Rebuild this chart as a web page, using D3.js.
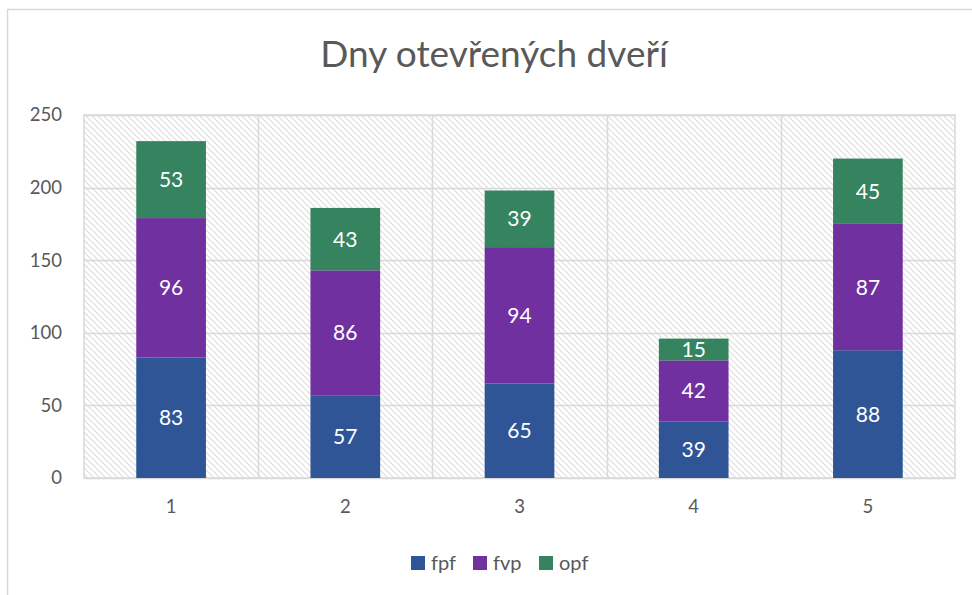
<!DOCTYPE html>
<html>
<head>
<meta charset="utf-8">
<script src="https://cdn.jsdelivr.net/npm/d3@7"></script>
<style>
  html, body { margin: 0; padding: 0; background: #fff; }
  svg { display: block; }
  text { font-family: Lato, "Open Sans", sans-serif; }
</style>
</head>
<body>
<svg id="chart" width="972" height="595"></svg>
<script>
// Days of open doors: visitor counts per day, stacked by faculty
const categories = ["1", "2", "3", "4", "5"];
const seriesNames = ["fpf", "fvp", "opf"];
const fpf = [83, 57, 65, 39, 88];
const fvp = [96, 86, 94, 42, 87];
const opf = [53, 43, 39, 15, 45];
const yTicks = [0, 50, 100, 150, 200, 250];
const colors = ["#2F5597", "#7030A0", "#36835F"];
const title = "Dny otevřených dveří";

const svg = d3.select("#chart");
const W = 972, H = 595;
const margin = { left: 84, right: 17, top: 115, bottom: 117 };
const plotW = W - margin.left - margin.right;
const plotH = H - margin.top - margin.bottom;

// chart frame
svg.append("rect")
  .attr("x", 7.5).attr("y", 9.5)
  .attr("width", 1000).attr("height", 700)
  .attr("fill", "#fff").attr("stroke", "#d9d9d9").attr("stroke-width", 1.5);

// hatched plot background
const defs = svg.append("defs");
const pat = defs.append("pattern")
  .attr("id", "hatch").attr("patternUnits", "userSpaceOnUse")
  .attr("width", 6).attr("height", 6);
pat.append("rect").attr("width", 6).attr("height", 6).attr("fill", "#fff");
pat.append("path")
  .attr("d", "M-1,-1 L7,7 M-1,5 L1,7 M5,-1 L7,1")
  .attr("stroke", "#dedede").attr("stroke-width", 1.1);

const rows = categories.map((c, i) => ({ cat: c, fpf: fpf[i], fvp: fvp[i], opf: opf[i] }));
const stacked = d3.stack().keys(seriesNames)(rows);

const x = d3.scaleBand().domain(categories)
  .range([margin.left, margin.left + plotW]).paddingInner(0.6).paddingOuter(0.3);
const xCat = d3.scaleBand().domain(categories)
  .range([margin.left, margin.left + plotW]);
const y = d3.scaleLinear().domain([0, 250]).range([margin.top + plotH, margin.top]);

const g = svg.append("g");
g.append("rect")
  .attr("x", margin.left).attr("y", margin.top)
  .attr("width", plotW).attr("height", plotH)
  .attr("fill", "url(#hatch)").attr("stroke", "#d9d9d9").attr("stroke-width", 1.5);

// horizontal gridlines
g.selectAll("line.hgrid").data(yTicks).join("line")
  .attr("class", "hgrid")
  .attr("x1", margin.left).attr("x2", margin.left + plotW)
  .attr("y1", d => Math.round(y(d)) + 0.5).attr("y2", d => Math.round(y(d)) + 0.5)
  .attr("stroke", "#d9d9d9").attr("stroke-width", 1.5);

// vertical gridlines between categories
g.selectAll("line.vgrid").data(categories.slice(1)).join("line")
  .attr("class", "vgrid")
  .attr("x1", d => Math.round(xCat(d)) + 0.5).attr("x2", d => Math.round(xCat(d)) + 0.5)
  .attr("y1", margin.top).attr("y2", margin.top + plotH)
  .attr("stroke", "#d9d9d9").attr("stroke-width", 1.5);

// stacked bars
const layers = g.selectAll("g.layer").data(stacked).join("g")
  .attr("class", "layer").attr("fill", (d, i) => colors[i]);
layers.selectAll("rect").data(d => d).join("rect")
  .attr("x", d => x(d.data.cat))
  .attr("width", x.bandwidth())
  .attr("y", d => y(d[1]))
  .attr("height", d => y(d[0]) - y(d[1]));

// value labels
layers.selectAll("text").data((d) => d.map(v => ({ v, key: d.key }))).join("text")
  .attr("x", d => x(d.v.data.cat) + x.bandwidth() / 2)
  .attr("y", d => (y(d.v[0]) + y(d.v[1])) / 2)
  .attr("dy", "0.36em")
  .attr("text-anchor", "middle")
  .attr("fill", "#fff").attr("font-size", 21)
  .text(d => d.v.data[d.key]);

// y axis labels
const yAxis = d3.axisLeft(y).tickValues(yTicks).tickSize(0).tickPadding(22);
svg.append("g").attr("transform", `translate(${margin.left},0)`).call(yAxis)
  .call(s => s.select(".domain").remove())
  .call(s => s.selectAll("text").attr("font-size", 18.5).attr("fill", "#595959")
    .attr("font-family", "Lato, 'Open Sans', sans-serif"));

// x axis labels
const xAxis = d3.axisBottom(xCat).tickSize(0).tickPadding(22);
svg.append("g").attr("transform", `translate(0,${margin.top + plotH})`).call(xAxis)
  .call(s => s.select(".domain").remove())
  .call(s => s.selectAll("text").attr("font-size", 18.5).attr("fill", "#595959")
    .attr("font-family", "Lato, 'Open Sans', sans-serif"));

// title
svg.append("text")
  .attr("x", 494).attr("y", 67)
  .attr("text-anchor", "middle")
  .attr("font-size", 37).attr("fill", "#595959")
  .text(title);

// legend
const legendX = [411, 473, 539];
const legend = svg.append("g").selectAll("g").data(seriesNames).join("g")
  .attr("transform", (d, i) => `translate(${legendX[i]},556)`);
legend.append("rect").attr("width", 14).attr("height", 14)
  .attr("fill", (d, i) => colors[i]);
legend.append("text").attr("x", 20).attr("y", 7).attr("dy", "0.36em")
  .attr("font-size", 20).attr("fill", "#595959").text(d => d);
</script>
</body>
</html>
